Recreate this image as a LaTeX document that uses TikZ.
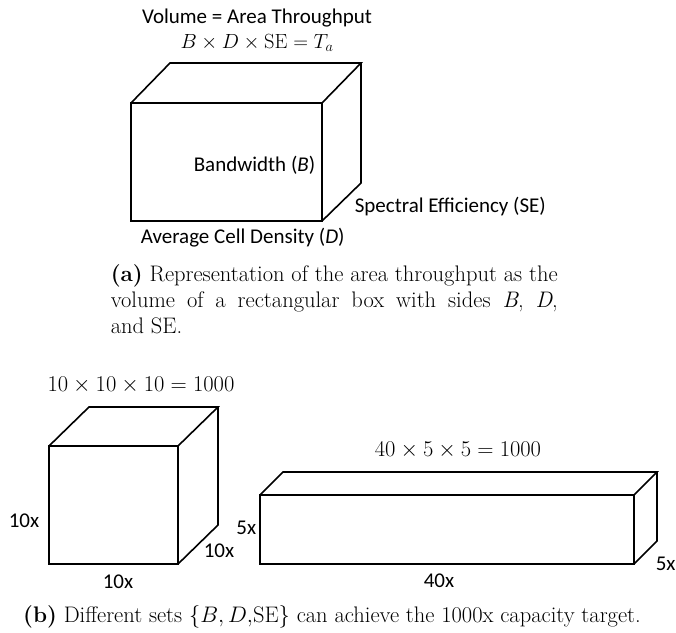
\RequirePackage{fix-cm}
\documentclass[tikz,border=0pt]{standalone}
\usepackage{amsmath}
\usepackage{fontspec}
\newfontfamily\lblfont{Carlito}
\usetikzlibrary{positioning}

\begin{document}
\begin{tikzpicture}[x=1pt, y=-1pt, line width=1.6pt, line join=miter,
  lbl/.style={font=\lblfont\fontsize{21}{25}\selectfont, inner sep=0pt},
  eqn/.style={font=\fontsize{20.5}{24}\selectfont, inner sep=0pt},
  bigeqn/.style={font=\fontsize{22.5}{27}\selectfont, inner sep=0pt},
  capt/.style={font=\fontsize{22.5}{26}\selectfont, inner sep=0pt}]
  \useasboundingbox (0,0) rectangle (676,632);

  % (a) the area throughput box
  \draw (131,103) rectangle (322,221);
  \draw (131,103) -- (170,63) -- (361,63) -- (322,103);
  \draw (361,63) -- (361,183) -- (322,221);

  \node[lbl, anchor=base] (vol) at (257,23) {Volume = Area Throughput};
  \node[eqn, anchor=base] (prod) at (257,48) {$B\times D\times \mathrm{SE}=T_a$};
  \node[lbl, anchor=base east] (bw) at (316,171) {Bandwidth (\textit{B})};
  \node[lbl, anchor=base west] (se) at (354,212) {Spectral Efficiency (SE)};
  \node[lbl, anchor=base west] (dens) at (140,243) {Average Cell Density (\textit{D})};

  \node[capt, anchor=north west, text width=447pt, align=justify] (capa) at (110,264)
    {\textbf{(a)} Representation of the area throughput as the\linebreak volume of a rectangular box with sides \textit{B}, \textit{D},\linebreak and SE.};

  % (b) cube
  \draw (49,446) rectangle (178,564);
  \draw (49,446) -- (89,407) -- (218,407) -- (178,446);
  \draw (218,407) -- (218,525) -- (178,564);

  \node[bigeqn, anchor=base] (cube) at (141,391) {$10\times 10\times 10=1000$};
  \node[lbl, anchor=base east] (cubeh) at (40,527) {10x};
  \node[lbl, anchor=base] (cubew) at (118,588) {10x};
  \node[lbl, anchor=base west] (cubed) at (203,557) {10x};

  % (b) long box
  \draw (260,495) rectangle (634,564);
  \draw (260,495) -- (283,472) -- (657,472) -- (634,495);
  \draw (657,472) -- (657,541) -- (634,564);

  \node[bigeqn, anchor=base] (bar) at (458,456) {$40\times 5\times 5=1000$};
  \node[lbl, anchor=base east] (barh) at (257,534) {5x};
  \node[lbl, anchor=base] (barw) at (439,587) {40x};
  \node[lbl, anchor=base west] (bard) at (655,570) {5x};

  \node[capt, anchor=base] (capb) at (332,622)
    {\textbf{(b)} Different sets $\{B,D,\!\mathrm{SE}\}$ can achieve the 1000x capacity target.};
\end{tikzpicture}
\end{document}
